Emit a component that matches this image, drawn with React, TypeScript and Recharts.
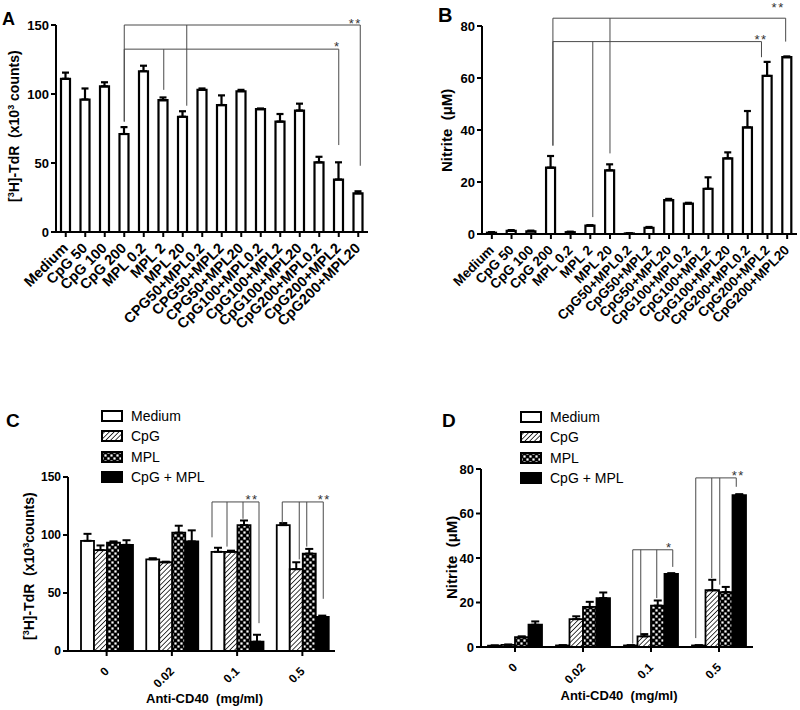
import React from 'react';
import { BarChart, Bar, XAxis, YAxis, ErrorBar, ReferenceLine, ReferenceDot, Legend } from 'recharts';

const FONT = 'Arial, "Liberation Sans", Helvetica, sans-serif';
const INK = '#000';
const BRACKET = '#4a4a4a';

// ---- panels A and B: single stimuli and combinations ----
const thymidineLabels = [
  'Medium', 'CpG 50', 'CpG 100', 'CpG 200', 'MPL 0.2', 'MPL 2', 'MPL 20',
  'CPG50+MPL0.2', 'CPG50+MPL2', 'CPG50+MPL20', 'CpG100+MPL0.2', 'CpG100+MPL2',
  'CpG100+MPL20', 'CpG200+MPL0.2', 'CpG200+MPL2', 'CpG200+MPL20',
];
const nitriteLabels = [
  'Medium', 'CpG 50', 'CpG 100', 'CpG 200', 'MPL 0.2', 'MPL 2', 'MPL 20',
  'CpG50+MPL0.2', 'CpG50+MPL2', 'CpG50+MPL20', 'CpG100+MPL0.2', 'CpG100+MPL2',
  'CpG100+MPL20', 'CpG200+MPL0.2', 'CpG200+MPL2', 'CpG200+MPL20',
];
const thymidineMeans = [111, 96, 105.5, 71, 116.5, 95.5, 83.5, 103, 92, 102, 89, 80, 88, 50.5, 38, 28];
const thymidineSem = [4.5, 8, 3, 5, 4, 2, 4, 1, 7, 1, 0.5, 5.5, 5, 4, 12.5, 1.5];
const nitriteMeans = [0.5, 1.2, 1.0, 25.5, 0.7, 3.2, 24.5, 0.2, 2.4, 13, 11.7, 17.4, 29.1, 41, 60.8, 68];
const nitriteSem = [0.2, 0.3, 0.3, 4.5, 0.2, 0.2, 2.3, 0.05, 0.3, 0.5, 0.3, 4.4, 2.3, 6.3, 5.4, 0.3];
const thymidineTicks = [0, 50, 100, 150];
const nitriteTicks = [0, 20, 40, 60, 80];

// ---- panels C and D: anti-CD40 dose series ----
const doses = ['0', '0.02', '0.1', '0.5'];
const treatments = ['Medium', 'CpG', 'MPL', 'CpG + MPL'];
const treatmentKeys = ['medium', 'cpg', 'mpl', 'combo'];

const cMedium = [95, 79, 85.5, 108.5];
const cMediumSem = [6, 1, 3.5, 1.8];
const cCpg = [87, 76.5, 85.5, 70.5];
const cCpgSem = [4, 0.5, 1, 6];
const cMpl = [93.5, 102, 108.5, 84];
const cMplSem = [1, 6, 4, 4];
const cCombo = [91.5, 94.5, 8, 29.5];
const cComboSem = [4, 9.5, 6, 1];

const dMedium = [0.6, 0.7, 0.7, 0.7];
const dMediumSem = [0.1, 0.1, 0.1, 0.1];
const dCpg = [1.0, 12.5, 4.8, 25.5];
const dCpgSem = [0.1, 1.3, 1, 4.7];
const dMpl = [4.4, 18, 18.6, 24.7];
const dMplSem = [0.4, 2.3, 2.3, 2.3];
const dCombo = [10, 22, 32.8, 68.3];
const dComboSem = [1.5, 2.5, 0.4, 0.4];

// significance brackets (category index, where each drop ends, small px nudges)
const thymidineBrackets = [
  { level: 150, at: [3, 6, 15], ends: [80, 91.5, 48], nudge: [0, 4, 2], mark: '**', markAt: 15, markNudge: -3, markLevel: 147.5 },
  { level: 132.5, at: [3, 5, 14], ends: [80, 103, 63], nudge: [0, 0.5, 0], mark: '*', markAt: 14, markNudge: -1.5, markLevel: 131 },
];
const nitriteBrackets = [
  { level: 83, at: [3, 6, 15], ends: [34, 31, 74], nudge: [2, 0, -1.5], mark: '**', markAt: 15, markNudge: -9, markLevel: 85.2 },
  { level: 74, at: [3, 5, 14], ends: [34, 6.5, 68], nudge: [2, 2.5, -6], mark: '**', markAt: 14, markNudge: -6.5, markLevel: 73 },
];
const cBrackets = [
  { group: 2, level: 128.5, ends: [98, 90, 114, 24], nudge: [-5, -3, 0, 3], mark: '**', markNudge: -4, markLevel: 127 },
  { group: 3, level: 128.5, ends: [110, 79, 90, 45], nudge: [0, 4, -1.5, 2], mark: '**', markNudge: 3, markLevel: 127 },
];
const dBrackets = [
  { group: 2, level: 43.7, ends: [1.5, 5.5, 22, 36], nudge: [2, -3.5, -1, 1.5], mark: '*', markNudge: -2, markLevel: 42.8 },
  { group: 3, level: 76, ends: [4, 31, 28, 72], nudge: [-3, -0.5, -6, -3], mark: '**', markNudge: -1, markLevel: 74.9 },
];

const axisStroke = { stroke: INK, strokeWidth: 2 };

const SlantTick = (props: any) => {
  const { x, y, payload, fontSize, dx, dy } = props;
  return (
    <text
      x={0}
      y={0}
      transform={`translate(${x + dx},${y + dy}) rotate(-45)`}
      textAnchor="end"
      fontFamily={FONT}
      fontSize={fontSize}
      fontWeight={700}
      fill={INK}
    >
      {payload.value}
    </text>
  );
};

const thymidineTitle = (space: string) => (
  <>
    <tspan>[</tspan>
    <tspan dy={-5} fontSize={9}>3</tspan>
    <tspan dy={5}>H]-TdR  (x10</tspan>
    <tspan dy={-5} fontSize={9}>3</tspan>
    <tspan dy={5}>{space}counts)</tspan>
  </>
);
const nitriteTitle = <>Nitrite  (μM)</>;

// rotated axis title; `bottom` is where the text starts (it reads upward)
const verticalTitle = (x: number, bottom: number, size: number, body: React.ReactNode) => () => (
  <text
    x={x}
    y={bottom}
    transform={`rotate(-90, ${x}, ${bottom})`}
    textAnchor="start"
    fontFamily={FONT}
    fontSize={size}
    fontWeight={700}
    fill={INK}
    style={{ whiteSpace: 'pre' }}
  >
    {body}
  </text>
);

const horizontalTitle = (cx: number, y: number) => () => (
  <text x={cx} y={y} textAnchor="middle" fontFamily={FONT} fontSize={13} fontWeight={700} fill={INK} style={{ whiteSpace: 'pre' }}>
    Anti-CD40  (mg/ml)
  </text>
);

function bracketLayers(id: string, level: number, xs: number[], ends: number[], mark: string, markX: number, markLevel: number) {
  const lo = Math.min(...xs);
  const hi = Math.max(...xs);
  return [
    <ReferenceLine key={`${id}-top`} xAxisId="n" stroke={BRACKET} strokeWidth={1} ifOverflow="visible"
      segment={[{ x: lo, y: level }, { x: hi, y: level }]} />,
    ...xs.map((x, k) => (
      <ReferenceLine key={`${id}-drop${k}`} xAxisId="n" stroke={BRACKET} strokeWidth={1} ifOverflow="visible"
        segment={[{ x, y: level }, { x, y: ends[k] }]} />
    )),
    <ReferenceDot key={`${id}-mark`} xAxisId="n" x={markX} y={markLevel} r={0} fill="none" stroke="none" ifOverflow="visible"
      label={(p: any) => {
        const vb = p.viewBox || p;
        return (
          <text x={vb.x} y={vb.y} textAnchor="middle" fontFamily={FONT} fontSize={13} letterSpacing={1.5} fill="#333">
            {mark}
          </text>
        );
      }} />,
  ];
}

type SingleProps = {
  width: number; height: number; margin: { top: number; right: number; bottom: number; left: number };
  yWidth: number; xHeight: number; labels: string[]; means: number[]; sems: number[]; ticks: number[];
  brackets: typeof thymidineBrackets; title: React.ReactNode; titleX: number; titleBottom: number; titleSize: number;
  labelSize: number;
};

function SingleChart(props: SingleProps) {
  const { width, height, margin, yWidth, xHeight, labels, means, sems, ticks, brackets } = props;
  const plotW = width - margin.left - margin.right - yWidth;
  const bw = plotW / labels.length;
  const slot = (i: number, px = 0) => i + 0.5 + px / bw;
  const rows = labels.map((name, i) => ({ name, slot: i + 0.5, value: means[i], sem: [0, sems[i]] }));
  return (
    <BarChart width={width} height={height} data={rows} margin={margin}>
      <XAxis dataKey="name" interval={0} height={xHeight} tickSize={5} tickLine={axisStroke} axisLine={axisStroke}
        tick={<SlantTick fontSize={props.labelSize} dx={3} dy={10} />} />
      <XAxis xAxisId="n" dataKey="slot" type="number" domain={[0, labels.length]} allowDataOverflow hide />
      <YAxis width={yWidth} domain={[ticks[0], ticks[ticks.length - 1]]} ticks={ticks} allowDataOverflow
        tickSize={5} tickLine={axisStroke} axisLine={axisStroke}
        tick={{ fill: INK, fontSize: 13, fontWeight: 700, fontFamily: FONT }}
        label={{ content: verticalTitle(props.titleX, props.titleBottom, props.titleSize, props.title) }} />
      <Bar dataKey="value" fill="#fff" stroke={INK} strokeWidth={2.2} barSize={9} isAnimationActive={false}>
        <ErrorBar dataKey="sem" width={3.5} stroke={INK} strokeWidth={2.2} direction="y" />
      </Bar>
      {brackets.flatMap((b, bi) =>
        bracketLayers(`b${bi}`, b.level, b.at.map((i, k) => slot(i, b.nudge[k])), b.ends, b.mark, slot(b.markAt, b.markNudge), b.markLevel),
      )}
    </BarChart>
  );
}

const TreatmentLegend = ({ fills }: { fills: string[] }) => (
  <div style={{ fontFamily: FONT, fontSize: 14, color: INK }}>
    {treatments.map((name, j) => (
      <div key={name} style={{ display: 'flex', alignItems: 'center', height: 20.3 }}>
        <svg width={22} height={12} style={{ display: 'block', marginRight: 8 }}>
          <rect x={1} y={1} width={20} height={10} fill={fills[j]} stroke={INK} strokeWidth={2} />
        </svg>
        <span>{name}</span>
      </div>
    ))}
  </div>
);

type GroupProps = {
  id: string; width: number; height: number; margin: { top: number; right: number; bottom: number; left: number };
  yWidth: number; xHeight: number; padLeft: number; barSize: number; values: number[][]; sems: number[][];
  ticks: number[]; tickSize: number; brackets: typeof cBrackets; title: React.ReactNode; titleX: number; titleBottom: number;
  titleSize: number; xTitleDx: number; xTitleY: number; legendLeft: number; legendTop: number;
};

function GroupChart(props: GroupProps) {
  const { id, width, height, margin, yWidth, xHeight, padLeft, barSize, values, sems, ticks, tickSize, brackets } = props;
  const plotW = width - margin.left - margin.right - yWidth - padLeft;
  const bw = plotW / doses.length;
  const lead = Math.floor((bw - treatments.length * barSize) / 2);
  const barCenter = (g: number, j: number, px = 0) => g + (lead + j * barSize + barSize / 2 + px) / bw;
  const fills = ['#fff', `url(#hatch-${id})`, `url(#check-${id})`, INK];
  const rows = doses.map((dose, g) => {
    const row: Record<string, any> = { dose, slot: g + 0.5 };
    treatmentKeys.forEach((k, j) => {
      row[k] = values[j][g];
      row[`${k}Sem`] = [0, sems[j][g]];
    });
    return row;
  });
  return (
    <BarChart width={width} height={height} data={rows} margin={margin} barGap={0}>
      <defs>
        <pattern id={`hatch-${id}`} width={3.4} height={3.4} patternUnits="userSpaceOnUse" patternTransform="rotate(45)">
          <rect width={3.4} height={3.4} fill="#fff" />
          <line x1={0} y1={0} x2={0} y2={3.4} stroke={INK} strokeWidth={1.5} />
        </pattern>
        <pattern id={`check-${id}`} width={6} height={6} patternUnits="userSpaceOnUse">
          <rect width={6} height={6} fill={INK} />
          <rect x={0.4} y={0.4} width={2.2} height={2.2} fill="#fff" />
          <rect x={3.4} y={3.4} width={2.2} height={2.2} fill="#fff" />
        </pattern>
      </defs>
      <XAxis dataKey="dose" interval={0} height={xHeight} padding={{ left: padLeft, right: 0 }} tickSize={5}
        tickLine={axisStroke} axisLine={axisStroke} tick={<SlantTick fontSize={12} dx={3} dy={14} />}
        label={{ content: horizontalTitle(margin.left + yWidth + padLeft + plotW / 2 + props.xTitleDx, props.xTitleY) }} />
      <XAxis xAxisId="n" dataKey="slot" type="number" domain={[0, doses.length]} padding={{ left: padLeft, right: 0 }} allowDataOverflow hide />
      <YAxis width={yWidth} domain={[ticks[0], ticks[ticks.length - 1]]} ticks={ticks} allowDataOverflow
        tickSize={5} tickLine={axisStroke} axisLine={axisStroke}
        tick={{ fill: INK, fontSize: tickSize, fontWeight: 700, fontFamily: FONT }}
        label={{ content: verticalTitle(props.titleX, props.titleBottom, props.titleSize, props.title) }} />
      {treatmentKeys.map((k, j) => (
        <Bar key={k} dataKey={k} name={treatments[j]} fill={fills[j]} stroke={INK} strokeWidth={1.8} barSize={barSize} isAnimationActive={false}>
          <ErrorBar dataKey={`${k}Sem`} width={4} stroke={INK} strokeWidth={2} direction="y" />
        </Bar>
      ))}
      {brackets.flatMap((b, bi) =>
        bracketLayers(`g${bi}`, b.level, b.ends.map((_, j) => barCenter(b.group, j, b.nudge[j])), b.ends, b.mark,
          barCenter(b.group, treatments.length - 1, b.markNudge), b.markLevel),
      )}
      <Legend layout="vertical" align="center" verticalAlign="middle"
        wrapperStyle={{ left: props.legendLeft, top: props.legendTop, width: 'auto', height: 'auto' }}
        content={() => <TreatmentLegend fills={fills} />} />
    </BarChart>
  );
}

const PanelLetter = ({ letter, left, top, size }: { letter: string; left: number; top: number; size: number }) => (
  <div style={{ position: 'absolute', left, top, fontFamily: FONT, fontWeight: 700, fontSize: size, lineHeight: `${size}px`, color: INK }}>
    {letter}
  </div>
);

export default function App() {
  return (
    <div style={{ position: 'absolute', left: 0, top: 0, width: 800, height: 710, background: '#fff', overflow: 'hidden' }}>
      <div style={{ position: 'absolute', left: 0, top: 0 }}>
        <SingleChart width={380} height={340} margin={{ top: 25, right: 12, bottom: 0, left: 0 }} yWidth={56} xHeight={108}
          labels={thymidineLabels} means={thymidineMeans} sems={thymidineSem} ticks={thymidineTicks}
          brackets={thymidineBrackets} title={thymidineTitle(' ')} titleX={19} titleBottom={202} titleSize={14} labelSize={14.5} />
      </div>
      <div style={{ position: 'absolute', left: 400, top: 0 }}>
        <SingleChart width={400} height={340} margin={{ top: 26, right: 3, bottom: 0, left: 0 }} yWidth={82} xHeight={106}
          labels={nitriteLabels} means={nitriteMeans} sems={nitriteSem} ticks={nitriteTicks}
          brackets={nitriteBrackets} title={nitriteTitle} titleX={52} titleBottom={172} titleSize={15} labelSize={13.5} />
      </div>
      <div style={{ position: 'absolute', left: 0, top: 360 }}>
        <GroupChart id="c" width={345} height={350} margin={{ top: 117, right: 10, bottom: 0, left: 0 }} yWidth={68} xHeight={59}
          padLeft={6} barSize={13} values={[cMedium, cCpg, cMpl, cCombo]} sems={[cMediumSem, cCpgSem, cMplSem, cComboSem]}
          ticks={thymidineTicks} tickSize={12} brackets={cBrackets} title={thymidineTitle('')} titleX={34} titleBottom={280} titleSize={14}
          xTitleDx={0} xTitleY={343} legendLeft={101} legendTop={46} />
      </div>
      <div style={{ position: 'absolute', left: 400, top: 360 }}>
        <GroupChart id="d" width={360} height={350} margin={{ top: 109, right: 7, bottom: 0, left: 0 }} yWidth={81} xHeight={63}
          padLeft={0} barSize={13.5} values={[dMedium, dCpg, dMpl, dCombo]} sems={[dMediumSem, dCpgSem, dMplSem, dComboSem]}
          ticks={nitriteTicks} tickSize={13} brackets={dBrackets} title={nitriteTitle} titleX={57} titleBottom={239} titleSize={15}
          xTitleDx={2} xTitleY={340} legendLeft={120} legendTop={47} />
      </div>
      <PanelLetter letter="A" left={2} top={10} size={18} />
      <PanelLetter letter="B" left={438} top={5} size={20} />
      <PanelLetter letter="C" left={6} top={411} size={19} />
      <PanelLetter letter="D" left={442} top={411} size={19} />
    </div>
  );
}
